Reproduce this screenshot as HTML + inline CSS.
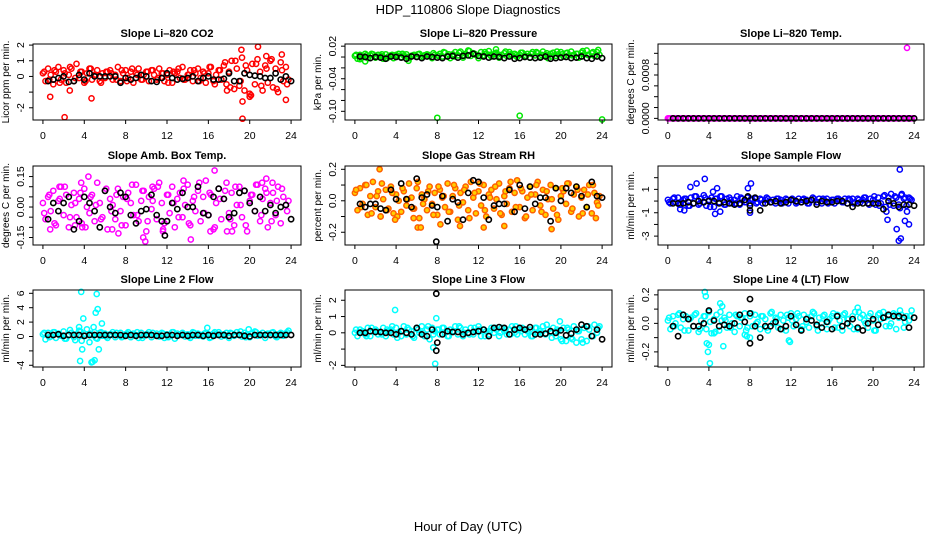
<!DOCTYPE html>
<html><head><meta charset="utf-8"><title>HDP_110806 Slope Diagnostics</title>
<style>
html,body{margin:0;padding:0;background:#fff;}
svg{display:block;font-family:"Liberation Sans",Arial,sans-serif;}
</style></head>
<body>
<svg id="chart" width="936" height="540" viewBox="0 0 936 540" xmlns="http://www.w3.org/2000/svg">
<text x="468" y="14" font-size="13" text-anchor="middle">HDP_110806  Slope Diagnostics</text>
<text x="468" y="531" font-size="13" text-anchor="middle">Hour of Day (UTC)</text>
</svg>
<script>
// ---- shared categories (hour of day) ----
const tC = [0,0.25,0.5,0.75,1,1.25,1.5,1.75,2,2.25,2.5,2.75,3,3.25,3.5,3.75,4,4.25,4.5,4.75,5,5.25,5.5,5.75,6,6.25,6.5,6.75,7,7.25,7.5,7.75,8,8.25,8.5,8.75,9,9.25,9.5,9.75,10,10.25,10.5,10.75,11,11.25,11.5,11.75,12,12.25,12.5,12.75,13,13.25,13.5,13.75,14,14.25,14.5,14.75,15,15.25,15.5,15.75,16,16.25,16.5,16.75,17,17.25,17.5,17.75,18,18.25,18.5,18.75,19,19.25,19.5,19.75,20,20.25,20.5,20.75,21,21.25,21.5,21.75,22,22.25,22.5,22.75,23,23.25,23.5,23.75];
const tB = [0.12,0.62,1.12,1.62,2.12,2.62,3.12,3.62,4.12,4.62,5.12,5.62,6.12,6.62,7.12,7.62,8.12,8.62,9.12,9.62,10.12,10.62,11.12,11.62,12.12,12.62,13.12,13.62,14.12,14.62,15.12,15.62,16.12,16.62,17.12,17.62,18.12,18.62,19.12,19.62,20.12,20.62,21.12,21.62,22.12,22.62,23.12,23.62];
const tK = [0.5,1,1.5,2,2.5,3,3.5,4,4.5,5,5.5,6,6.5,7,7.5,8,8.5,9,9.5,10,10.5,11,11.5,12,12.5,13,13.5,14,14.5,15,15.5,16,16.5,17,17.5,18,18.5,19,19.5,20,20.5,21,21.5,22,22.5,23,23.5,24];
const xTicks = [0,4,8,12,16,20,24];
const xTickLabels = ["0","4","8","12","16","20","24"];

// ---- panel 1: Li-820 CO2 ----
const c1 = [0.2,-0.3,0.5,0.1,-0.5,0.3,0.6,-0.2,0.4,-0.4,0.1,0.5,-0.3,0.8,-0.1,0.3,-0.4,0.2,0.5,-0.2,0.1,0.4,-0.3,0.2,-0.1,0.3,0.4,-0.2,0.1,0.6,-0.3,0.2,0.4,-0.1,0.3,-0.4,0.2,0.5,-0.2,0.1,0.3,-0.3,0.4,0.1,-0.2,0.5,0.2,-0.3,0.1,0.4,-0.4,0.2,0.3,-0.1,0.6,-0.2,0.1,0.4,-0.3,0.2,0.5,-0.1,0.3,-0.4,0.2,0.6,-0.3,0.1,0.4,-0.2,0.7,-0.5,0.3,1.0,-0.8,0.5,-0.6,1.2,-0.9,0.4,-1.1,0.8,-0.5,1.1,0.3,-0.9,0.7,-0.4,1.0,-0.7,0.5,-1.0,0.9,-0.3,0.6,-0.2];
const c1b = [0.3,-0.2,0.4,-0.4,0.2,0.6,-0.1,0.3,-0.3,0.5,0.1,-0.4,0.3,0.2,-0.2,0.4,-0.3,0.5,0.1,-0.2,0.3,0.4,-0.1,0.2,-0.4,0.3,0.5,-0.2,0.1,0.4,-0.3,0.2,0.6,-0.5,0.4,0.9,-0.7,1.0,-0.3,0.7,-1.2,0.8,-0.6,0.5,1.1,-0.8,0.4,-0.5];
const k1 = [-0.3,-0.2,-0.1,0,-0.35,-0.3,0.1,-0.2,0.2,0,0,0,0,0,-0.4,-0.1,-0.2,-0.1,0.1,0,-0.3,-0.35,-0.1,0.2,-0.1,-0.2,-0.15,-0.1,0,-0.3,-0.1,0,-0.2,-0.2,-0.15,0.2,-0.3,-0.3,0.2,0.1,0.05,0,-0.1,-0.1,0.2,-0.2,0,-0.3];
const o1x = [0.7,2.1,2.6,4.7,19.3,19.2,19.3,20.0,20.8,23.1,23.5,17.8,21.6];
const o1y = [-1.3,-2.6,-0.9,-1.4,-2.7,1.7,-1.6,-1.3,1.9,1.4,-1.5,-0.9,1.3];
const ko1x = [], ko1y = [];

// ---- panel 2: Li-820 Pressure ----
const c2 = [0.002,-0.003,0.004,0.001,0.006,-0.002,0.003,0.005,-0.001,0.004,0.002,-0.003,0.005,0.001,0.003,-0.002,0.004,0.006,0.000,0.003,0.005,-0.002,0.002,0.004,0.001,0.006,-0.001,0.003,0.005,0.002,-0.002,0.004,0.003,0.006,0.001,0.008,0.002,-0.002,0.005,0.009,0.003,0.010,-0.001,0.006,0.012,0.002,0.007,0.004,-0.002,0.009,0.003,0.006,0.011,0.001,0.005,0.008,-0.001,0.004,0.007,0.002,0.009,0.003,0.006,0.000,0.004,0.008,0.002,0.006,-0.001,0.009,0.003,0.007,0.001,0.010,0.004,-0.002,0.006,0.008,0.002,0.005,0.009,0.001,0.007,0.003,0.010,0.004,0.006,-0.001,0.008,0.005,0.012,0.003,0.007,0.002,0.009,0.004];
const c2b = [0.004,-0.001,0.003,0.006,0.001,0.005,-0.002,0.004,0.002,0.006,0.000,0.003,0.005,0.001,0.004,0.007,0.002,0.009,0.005,0.001,0.008,0.003,0.011,0.006,0.002,0.009,0.004,0.007,0.001,0.010,0.005,0.003,0.008,0.002,0.006,0.009,0.004,0.007,0.001,0.010,0.005,0.008,0.003,0.006,0.011,0.004,0.009,0.013];
const k2 = [0.001,0.000,-0.002,0.000,-0.001,-0.003,0.001,0,-0.001,-0.003,0.001,0,-0.002,0.001,0,-0.001,-0.002,0.001,0.002,-0.001,0.002,0.003,0.006,0.002,0.001,-0.001,0.001,0,-0.002,0.001,-0.003,-0.002,0.000,-0.001,-0.002,-0.001,0.001,-0.003,-0.002,-0.001,0,-0.002,-0.001,0.001,-0.002,-0.003,0.001,-0.002];
const o2x = [0.5,1.0,5.2,8.0,16.0,24.0,13.7];
const o2y = [-0.004,-0.008,-0.007,-0.112,-0.108,-0.115,0.014];
const ko2x = [], ko2y = [];

// ---- panel 3: Li-820 Temp ----
const c3 = [0,0,0,0,0,0,0,0,0,0,0,0,0,0,0,0,0,0,0,0,0,0,0,0,0,0,0,0,0,0,0,0,0,0,0,0,0,0,0,0,0,0,0,0,0,0,0,0,0,0,0,0,0,0,0,0,0,0,0,0,0,0,0,0,0,0,0,0,0,0,0,0,0,0,0,0,0,0,0,0,0,0,0,0,0,0,0,0,0,0,0,0,0,0,0,0];
const c3b = [0,0,0,0,0,0,0,0,0,0,0,0,0,0,0,0,0,0,0,0,0,0,0,0,0,0,0,0,0,0,0,0,0,0,0,0,0,0,0,0,0,0,0,0,0,0,0,0];
const k3 = [0,0,0,0,0,0,0,0,0,0,0,0,0,0,0,0,0,0,0,0,0,0,0,0,0,0,0,0,0,0,0,0,0,0,0,0,0,0,0,0,0,0,0,0,0,0,0,0];
const o3x = [23.3,24.0];
const o3y = [0.0013,0];
const ko3x = [], ko3y = [];

// ---- panel 4: Amb. Box Temp ----
const c4 = [0.02,-0.06,0.05,-0.02,0.08,-0.09,0.03,0.10,-0.04,0.06,-0.10,0.01,0.07,-0.05,0.04,-0.08,0.09,0.00,-0.03,0.06,-0.07,0.12,0.02,-0.05,0.08,-0.11,0.04,0.01,-0.06,0.09,-0.02,0.05,-0.09,0.07,0.02,-0.04,0.11,-0.07,0.03,0.08,-0.12,0.05,-0.01,0.09,-0.06,0.12,0.02,-0.08,0.06,-0.03,0.10,-0.10,0.04,0.07,-0.05,0.01,0.11,-0.09,0.03,-0.02,0.08,-0.07,0.05,0.13,-0.04,0.06,-0.11,0.02,0.09,-0.06,0.04,0.12,-0.03,0.07,-0.09,0.01,0.10,-0.05,0.08,-0.12,0.03,0.06,-0.02,0.11,-0.07,0.04,0.09,-0.10,0.02,0.07,-0.04,0.10,-0.08,0.05,0.01,0.03];
const c4b = [-0.03,0.06,-0.08,0.04,0.10,-0.05,0.02,0.07,-0.10,0.05,0.01,-0.06,0.09,-0.02,0.06,-0.09,0.04,0.11,-0.04,0.08,-0.07,0.03,0.10,-0.11,0.06,0.02,-0.05,0.09,-0.08,0.05,0.12,-0.03,0.07,-0.10,0.04,0.08,-0.06,0.10,0.01,-0.09,0.06,0.11,-0.04,0.07,-0.07,0.03,0.09,-0.02];
const k4 = [-0.06,0.02,-0.02,0.02,0.05,-0.11,-0.07,0.05,0.02,-0.02,-0.1,0.08,0.00,-0.03,0.07,0.05,-0.04,-0.08,-0.02,-0.01,0.06,-0.04,-0.07,-0.07,0.02,-0.01,0.07,0.00,0.00,0.10,-0.03,-0.04,0.05,0.09,0.04,-0.05,-0.03,0.07,0.08,0.02,-0.02,0.05,-0.02,0.01,-0.03,0.00,0.01,-0.06];
const o4x = [9.9,11.6,14.3,16.2,17.8,18.3,21.6,22.2,0.7,3.1,3.8,6.7,4.4,13.6,10.6,1.6,16.6,3.7,21.2,7.3,9.7];
const o4y = [-0.17,-0.12,-0.16,-0.12,-0.12,-0.12,0.14,0.12,-0.11,-0.09,-0.10,-0.11,0.15,0.13,0.10,0.10,0.18,0.12,0.12,-0.13,-0.15];
const ko4x = [11.8], ko4y = [-0.14];

// ---- panel 5: Gas Stream RH ----
const c5 = [0.05,-0.06,0.08,-0.02,0.10,-0.09,0.03,0.12,-0.04,0.06,-0.10,0.01,0.07,-0.05,0.09,-0.08,0.04,0.00,-0.07,0.06,-0.03,0.11,0.02,-0.05,0.08,-0.11,0.04,0.01,-0.06,0.09,-0.02,0.05,-0.09,0.07,0.02,-0.04,0.11,-0.07,0.03,0.08,-0.12,0.05,-0.01,0.09,-0.06,0.12,0.02,-0.08,0.06,-0.03,0.10,-0.10,0.04,0.07,-0.05,0.01,0.11,-0.09,0.03,-0.02,0.08,-0.07,0.05,0.13,-0.04,0.06,-0.11,0.02,0.09,-0.06,0.04,0.12,-0.03,0.07,-0.09,0.01,0.10,-0.05,0.08,-0.12,0.03,0.06,-0.02,0.11,-0.07,0.04,0.09,-0.10,0.02,0.07,-0.04,0.10,-0.08,0.05,-0.01,0.03];
const c5b = [0.07,-0.04,0.10,-0.08,0.03,0.11,-0.06,0.05,-0.10,0.08,0.01,-0.05,0.12,-0.02,0.06,-0.09,0.09,0.03,-0.07,0.10,-0.03,0.07,-0.11,0.05,0.11,-0.06,0.02,0.09,-0.08,0.06,0.12,-0.04,0.08,-0.10,0.04,0.10,-0.07,0.06,0.01,-0.09,0.08,0.11,-0.05,0.07,-0.08,0.04,0.10,-0.03];
const k5 = [-0.02,-0.04,-0.02,-0.02,-0.05,-0.06,0.07,0.01,0.11,0.01,-0.04,0.14,0.02,0.04,-0.03,-0.04,0.03,-0.13,0.01,-0.01,-0.12,0.05,0.13,0.12,0.02,-0.12,-0.03,-0.02,-0.02,0.07,-0.07,0.10,-0.05,0.09,-0.02,0.02,0.02,-0.13,0.08,0.00,0.08,0.05,0.09,0.03,-0.04,0.12,0.03,0.02];
const o5x = [2.4,6.1,6.4,8.3,12.5,14.5,19.1,23.4,3.9,10.2,5.7,2.5];
const o5y = [0.2,-0.17,-0.17,-0.15,-0.17,-0.16,-0.18,-0.11,-0.12,-0.16,-0.11,-0.1];
const ko5x = [7.9], ko5y = [-0.26];

// ---- panel 6: Sample Flow ----
const c6 = [0.1,-0.2,0.2,-0.1,0.3,-0.3,0.1,0.2,-0.4,0.3,-0.2,0.4,-0.3,0.2,0.5,-0.4,0.1,0.3,-0.5,0.2,-0.1,0.4,-0.3,0.2,0.3,-0.2,0.1,0.4,-0.3,0.2,-0.1,0.3,-0.2,0.1,0.2,-0.1,0.2,-0.2,0.1,0.2,-0.1,0.1,-0.2,0.2,0.1,-0.1,0.2,-0.2,0.1,0.1,-0.2,0.2,-0.1,0.2,0.1,-0.2,0.1,0.2,-0.1,0.2,-0.2,0.1,0.2,-0.1,0.1,-0.2,0.2,0.1,-0.1,0.2,-0.2,0.1,0.2,-0.1,0.2,-0.1,0.1,0.3,-0.2,0.2,0.1,-0.3,0.3,-0.2,0.4,-0.5,0.3,0.6,-0.4,0.3,-0.3,0.5,0.2,-0.4,0.3,0.1];
const c6b = [-0.1,0.3,-0.3,0.2,-0.4,0.4,-0.2,0.3,-0.5,0.2,0.4,-0.3,0.1,-0.2,0.3,-0.1,0.2,-0.2,0.1,0.3,-0.1,0.2,-0.2,0.1,0.2,-0.1,0.1,-0.2,0.3,-0.1,0.2,-0.2,0.1,0.2,-0.1,0.2,-0.2,0.1,0.3,-0.3,0.4,-0.4,0.5,-0.3,0.4,-0.6,0.3,0.2];
const k6 = [-0.2,-0.2,-0.2,-0.1,-0.2,0,-0.1,0.0,0.0,-0.2,-0.1,-0.2,-0.3,-0.2,0.1,-0.4,0.3,-0.8,-0.2,-0.1,0,-0.2,-0.1,0.1,0,-0.1,0,0.1,-0.3,0,-0.1,-0.1,0,0,-0.2,-0.5,-0.2,-0.2,-0.2,-0.2,-0.2,-0.7,0.0,-0.2,-0.5,-0.3,-0.3,-0.4];
const o6x = [1.2,1.6,2.2,2.8,3.6,4.4,4.6,4.8,5.1,7.8,8.1,8.0,22.6,22.7,22.3,22.5,21.4,21.3,23.1,23.5,23.3,22.8];
const o6y = [-0.7,-0.8,1.2,1.5,1.9,0.8,-1.1,1.1,-0.9,1.1,1.5,-1.0,2.7,-3.2,-2.4,-3.4,-1.6,-0.9,-1.7,-2.0,-0.9,0.6];
const ko6x = [7.8,8.0], ko6y = [0.4,-0.8];

// ---- panel 7: Line 2 Flow ----
const c7 = [0.3,-0.4,0.5,0.0,0.6,-0.2,0.4,0.1,0.7,-0.3,0.2,0.5,-0.1,0.3,0.8,-0.6,0.4,1.0,-0.8,0.2,0.6,-0.3,0.5,0.1,0.4,-0.2,0.3,0.6,-0.1,0.2,0.5,0.0,0.3,0.6,-0.1,0.4,0.2,-0.2,0.5,0.1,0.3,0.6,-0.1,0.2,0.4,0.0,0.5,-0.2,0.3,0.1,0.6,-0.3,0.4,0.2,0.5,0.0,0.3,-0.2,0.6,0.1,0.4,0.2,0.0,0.5,0.3,-0.1,0.4,0.2,0.6,0.0,0.3,0.5,-0.2,0.4,0.1,0.6,0.2,0.0,0.5,0.3,-0.1,0.4,0.7,0.1,0.3,0.5,-0.2,0.4,0.2,0.6,0.0,0.3,0.5,0.1,0.4,0.8];
const c7b = [0.5,-0.1,0.6,0.2,-0.3,0.9,-0.5,0.7,0.1,0.4,-0.2,0.6,0.0,0.3,0.5,-0.1,0.4,0.2,0.6,-0.2,0.3,0.5,0.1,0.4,-0.1,0.6,0.2,0.3,0.0,0.5,0.1,0.4,-0.2,0.6,0.3,0.1,0.5,0.2,0.7,-0.1,0.4,0.6,0.2,0.3,0.5,-0.1,0.4,0.6];
const k7 = [0.2,0.2,0.3,0.1,0.2,0.2,0.2,0.1,0.2,0.2,0.2,0.2,0.2,0.2,0.2,0.1,0.2,0.1,0.2,0.2,0.2,0.1,0.1,0.2,0.2,0.1,0.2,0.1,0.2,0.2,0.1,0.2,0.1,0.2,0.2,0.1,0.2,0.2,0.1,0.0,0.2,0.2,0.2,0.2,0.2,0.2,0.2,0.2];
const o7x = [3.7,3.9,3.6,3.8,4.7,4.8,5.0,5.1,5.2,5.3,5.4,5.7,3.5,4.9,15.9,19.9];
const o7y = [6.2,2.5,-3.4,-1.8,-3.6,-3.5,-3.3,3.3,5.9,3.8,-1.8,1.8,1.3,1.3,1.2,1.0];
const ko7x = [], ko7y = [];

// ---- panel 8: Line 3 Flow ----
const c8 = [0.0,-0.2,0.2,0.1,-0.1,0.3,-0.2,0.1,0.2,-0.1,0.0,0.3,-0.2,0.1,0.2,-0.1,0.3,0.0,-0.2,0.4,-0.1,0.2,0.1,-0.3,0.3,0.0,0.4,-0.2,0.2,-0.4,0.3,0.1,0.2,-0.1,0.3,0.0,-0.2,0.2,0.1,0.4,-0.1,0.3,-0.2,0.2,0.0,0.3,-0.1,0.1,0.4,-0.2,0.2,0.1,-0.1,0.3,0.0,0.2,-0.2,0.3,0.1,-0.1,0.2,0.4,0.0,-0.1,0.2,0.3,-0.1,0.1,0.2,-0.2,0.3,0.0,0.1,0.4,-0.1,0.2,0.0,0.3,-0.2,0.1,-0.4,0.3,-0.5,0.2,-0.3,0.4,-0.6,0.1,-0.4,0.3,-0.5,0.2,-0.2,0.5,0.0,0.4];
const c8b = [0.2,0.0,-0.2,0.3,0.1,-0.1,0.2,0.4,-0.3,0.1,0.3,-0.2,0.2,0.0,0.4,-0.1,0.2,0.3,-0.2,0.1,0.4,0.0,-0.1,0.3,0.2,-0.2,0.1,0.3,0.0,0.2,-0.1,0.4,0.1,0.2,-0.2,0.3,0.0,0.5,-0.3,0.2,-0.5,0.3,-0.4,0.1,-0.6,0.4,-0.2,0.3];
const k8 = [0,0,0.1,0.05,0.05,0,0,-0.1,0.1,0,-0.1,0.3,-0.1,-0.2,0.2,-0.6,-0.1,0.1,0.05,0.05,-0.1,0,0.05,0.1,0.2,-0.2,0.3,0.35,0.3,-0.1,0.2,0.3,0.2,0.35,-0.1,-0.1,-0.05,0.1,0,0.15,-0.15,-0.05,0.2,0.5,0.4,-0.2,0.2,-0.4];
const o8x = [3.9,7.8,7.9,7.6,19.9];
const o8y = [1.4,-1.9,0.9,-0.9,0.7];
const ko8x = [7.9,7.9], ko8y = [2.4,-1.1];

// ---- panel 9: Line 4 (LT) Flow ----
const c9 = [0.02,-0.04,0.05,0.00,0.06,-0.03,0.03,0.05,-0.05,0.04,-0.02,0.07,-0.06,0.02,0.05,-0.04,0.08,-0.07,0.03,0.06,-0.05,0.02,0.04,-0.03,0.06,0.00,-0.06,0.05,-0.02,0.04,0.07,-0.03,0.05,-0.02,0.06,0.01,-0.04,0.05,0.03,-0.05,0.07,0.00,0.04,-0.03,0.06,0.02,-0.05,0.04,0.07,-0.02,0.03,0.05,-0.04,0.06,0.01,-0.03,0.05,0.07,-0.02,0.04,0.00,0.06,-0.04,0.03,0.05,-0.03,0.06,0.02,-0.05,0.07,0.03,-0.02,0.05,0.08,-0.04,0.04,0.06,0.00,-0.03,0.07,0.02,-0.05,0.06,0.03,0.08,-0.02,0.05,0.00,0.07,-0.04,0.04,0.06,-0.03,0.05,0.02,0.09];
const c9b = [0.04,-0.02,0.07,-0.05,0.03,0.06,-0.04,0.05,0.01,-0.06,0.08,0.02,-0.03,0.06,0.04,-0.05,0.07,0.00,0.05,-0.03,0.08,0.03,-0.04,0.06,0.02,0.07,-0.02,0.04,0.08,-0.05,0.05,0.01,0.07,-0.03,0.06,0.03,-0.04,0.08,0.02,0.05,-0.05,0.07,0.04,-0.02,0.06,0.09,0.01,0.05];
const k9 = [-0.02,-0.09,0.06,0.03,-0.02,-0.02,0.00,0.09,0.02,-0.02,-0.01,-0.02,0.00,0.06,0.01,0.07,-0.02,-0.10,-0.02,-0.02,0.01,-0.04,-0.02,0.05,-0.01,-0.05,0.03,0.02,-0.01,-0.03,0.01,-0.04,0.05,-0.02,0.00,0.03,-0.03,-0.05,0.00,0.03,-0.01,0.04,0.06,0.05,0.05,0.04,-0.03,0.04];
const o9x = [3.6,3.7,3.8,3.9,4.0,4.1,4.5,5.1,5.3,5.4,8.0,11.8,11.9,7.7,7.5,18.5];
const o9y = [0.22,0.19,-0.14,-0.20,-0.15,-0.28,-0.07,0.14,0.12,-0.16,-0.1,-0.12,-0.13,-0.09,-0.08,0.11];
const ko9x = [8.0,8.0], ko9y = [0.17,-0.14];

// ---- y tick values and labels ----
const yt1 = [-2,-1,0,1,2], yl1 = ["-2","","0","1","2"];
const yt2 = [-0.10,-0.08,-0.06,-0.04,-0.02,0,0.02], yl2 = ["-0.10","","","-0.04","","","0.02"];
const yt3 = [0,0.0002,0.0004,0.0006,0.0008,0.0010,0.0012], yl3 = ["0.0000","","","","0.0008","",""];
const yt4 = [-0.15,-0.10,-0.05,0,0.05,0.10,0.15], yl4 = ["-0.15","","","0.00","","","0.15"];
const yt5 = [-0.2,-0.1,0,0.1,0.2], yl5 = ["-0.2","","0.0","","0.2"];
const yt6 = [-3,-2,-1,0,1,2], yl6 = ["-3","","-1","","1",""];
const yt7 = [-4,-2,0,2,4,6], yl7 = ["-4","","0","2","4","6"];
const yt8 = [-2,-1,0,1,2], yl8 = ["-2","","0","1","2"];
const yt9 = [-0.3,-0.2,-0.1,0,0.1,0.2], yl9 = ["","-0.2","","0.0","","0.2"];

const cols = [[33,301],[345,612],[658,924]];
const rows = [[44,120],[166,245],[290,367]];
const panels = [
 {name:"co2",title:"Slope Li\u2013820 CO2",ytitle:"Licor ppm per min.",ylo:-2.78,yhi:2.07,c:c1,cb:c1b,k:k1,ox:o1x,oy:o1y,kox:ko1x,koy:ko1y,yt:yt1,yl:yl1,stroke:"#ff0000",fill:"none"},
 {name:"pressure",title:"Slope Li\u2013820 Pressure",ytitle:"kPa per min.",ylo:-0.116,yhi:0.024,c:c2,cb:c2b,k:k2,ox:o2x,oy:o2y,kox:ko2x,koy:ko2y,yt:yt2,yl:yl2,stroke:"#00e800",fill:"none"},
 {name:"temp",title:"Slope Li\u2013820 Temp.",ytitle:"degrees C per min.",ylo:-0.00003,yhi:0.001372,c:c3,cb:c3b,k:k3,ox:o3x,oy:o3y,kox:ko3x,koy:ko3y,yt:yt3,yl:yl3,stroke:"#ff00ff",fill:"none"},
 {name:"amb-box-temp",title:"Slope Amb. Box Temp.",ytitle:"degrees C per min.",ylo:-0.187,yhi:0.202,c:c4,cb:c4b,k:k4,ox:o4x,oy:o4y,kox:ko4x,koy:ko4y,yt:yt4,yl:yl4,stroke:"#ff00ff",fill:"none"},
 {name:"gas-stream-rh",title:"Slope Gas Stream RH",ytitle:"percent per min.",ylo:-0.281,yhi:0.221,c:c5,cb:c5b,k:k5,ox:o5x,oy:o5y,kox:ko5x,koy:ko5y,yt:yt5,yl:yl5,stroke:"#ff6000",fill:"#ffd000"},
 {name:"sample-flow",title:"Slope Sample Flow",ytitle:"ml/min per min.",ylo:-3.76,yhi:3.0,c:c6,cb:c6b,k:k6,ox:o6x,oy:o6y,kox:ko6x,koy:ko6y,yt:yt6,yl:yl6,stroke:"#0000ff",fill:"none"},
 {name:"line2-flow",title:"Slope Line 2 Flow",ytitle:"ml/min per min.",ylo:-4.24,yhi:6.46,c:c7,cb:c7b,k:k7,ox:o7x,oy:o7y,kox:ko7x,koy:ko7y,yt:yt7,yl:yl7,stroke:"#00ffff",fill:"none"},
 {name:"line3-flow",title:"Slope Line 3 Flow",ytitle:"ml/min per min.",ylo:-2.1,yhi:2.63,c:c8,cb:c8b,k:k8,ox:o8x,oy:o8y,kox:ko8x,koy:ko8y,yt:yt8,yl:yl8,stroke:"#00ffff",fill:"none"},
 {name:"line4-flow",title:"Slope Line 4 (LT) Flow",ytitle:"ml/min per min.",ylo:-0.306,yhi:0.234,c:c9,cb:c9b,k:k9,ox:o9x,oy:o9y,kox:ko9x,koy:ko9y,yt:yt9,yl:yl9,stroke:"#00ffff",fill:"none"}
];

const NS = "http://www.w3.org/2000/svg";
const svg = document.getElementById("chart");
function mk(tag, attrs, parent){
  const e = document.createElementNS(NS, tag);
  for (const a in attrs) e.setAttribute(a, attrs[a]);
  parent.appendChild(e);
  return e;
}
panels.forEach((p, i) => {
  const [L, R] = cols[i % 3];
  const [T, B] = rows[Math.floor(i / 3)];
  const xs = h => L + (h + 0.96) / 25.92 * (R - L);
  const ys = v => B - (v - p.ylo) / (p.yhi - p.ylo) * (B - T);
  const g = mk("g", {}, svg);
  
  
  const title = mk("text", {x:(L+R)/2, y:T-7, "font-size":11, "font-weight":"bold", "text-anchor":"middle"}, g);
  title.textContent = p.title;
  
  
  const yt = mk("text", {x:0, y:0, "font-size":10, "text-anchor":"middle", transform:`translate(${L-24},${(T+B)/2}) rotate(-90)`}, g);
  yt.textContent = p.ytitle;
  
  
  const pts = mk("g", {}, g);
  
  
  function dot(x, y, stroke, fill, w){
    const c = mk("circle", {cx:xs(x).toFixed(1), cy:ys(y).toFixed(1), r:2.6, fill:fill, stroke:stroke, "stroke-width":w}, pts);
    
    
  }
  for (let j = 0; j < Math.min(tC.length, p.c.length); j++) dot(tC[j], p.c[j], p.stroke, p.fill, 1.5);
  for (let j = 0; j < Math.min(tB.length, p.cb.length); j++) dot(tB[j], p.cb[j], p.stroke, p.fill, 1.5);
  for (let j = 0; j < Math.min(p.ox.length, p.oy.length); j++) dot(p.ox[j], p.oy[j], p.stroke, p.fill, 1.5);
  for (let j = 0; j < Math.min(tK.length, p.k.length); j++) dot(tK[j], p.k[j], "#000", "none", 1.6);
  for (let j = 0; j < Math.min(p.kox.length, p.koy.length); j++) dot(p.kox[j], p.koy[j], "#000", "none", 1.6);
  const box = mk("rect", {x:L, y:T, width:R-L, height:B-T, fill:"none", stroke:"#000", "stroke-width":1}, g);
  
  
  xTicks.forEach((h, j) => {
    const x = xs(h);
    const t = mk("line", {x1:x, x2:x, y1:B, y2:B+4, stroke:"#000", "stroke-width":1}, g);
    
    
    const lb = mk("text", {x:x, y:B+19, "font-size":10.5, "text-anchor":"middle"}, g);
    lb.textContent = xTickLabels[j];
    
    
  });
  p.yt.forEach((v, j) => {
    const y = ys(v);
    const t = mk("line", {x1:L-4, x2:L, y1:y, y2:y, stroke:"#000", "stroke-width":1}, g);
    
    
    if (p.yl[j]) {
      const lb = mk("text", {x:0, y:0, "font-size":10.5, "text-anchor":"middle", transform:`translate(${L-9},${y}) rotate(-90)`}, g);
      lb.textContent = p.yl[j];
      
      
    }
  });
});
</script>
</body></html>
